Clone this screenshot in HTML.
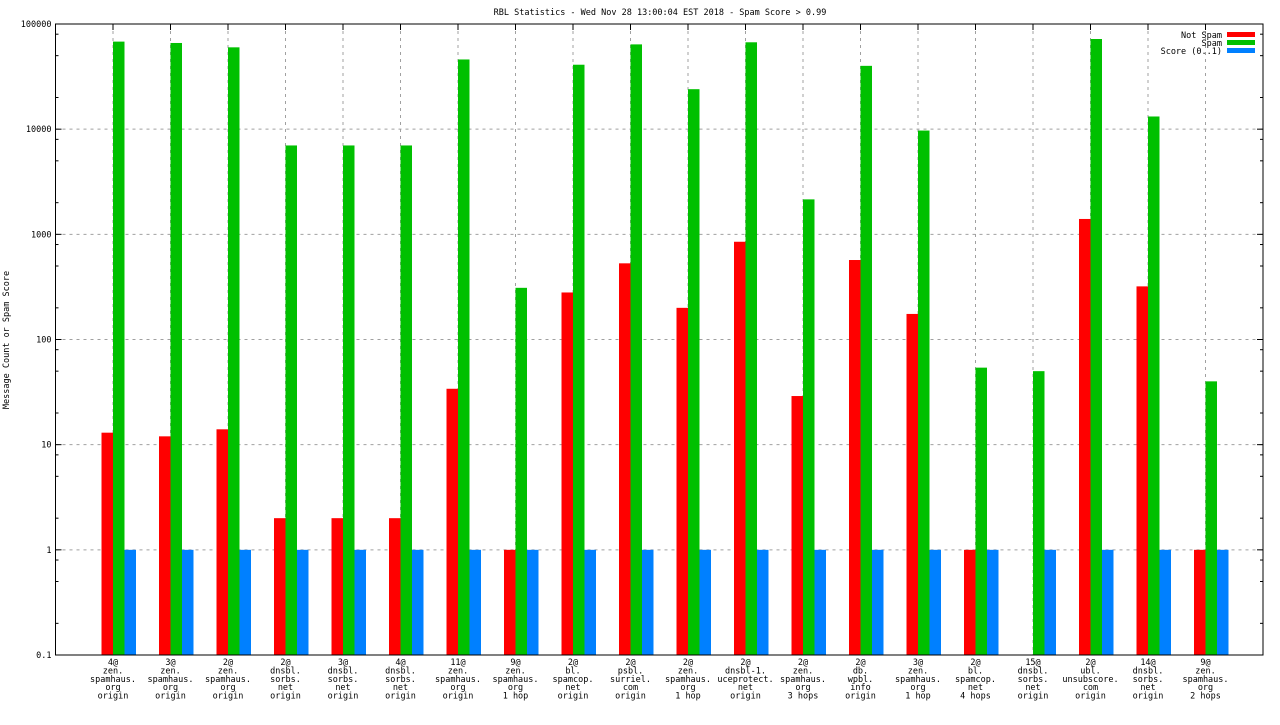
<!DOCTYPE html>
<html><head><meta charset="utf-8"><style>
html,body{margin:0;padding:0;background:#fff;}
svg text{font-family:"DejaVu Sans Mono","Liberation Mono",monospace;font-size:8.5px;fill:#000;}
</style></head><body>
<svg id="chart" width="1280" height="720" xmlns="http://www.w3.org/2000/svg">
<text x="660" y="15" text-anchor="middle">RBL Statistics - Wed Nov 28 13:00:04 EST 2018 - Spam Score &gt; 0.99</text>
<text transform="translate(9,340) rotate(-90)" text-anchor="middle">Message Count or Spam Score</text>
<g id="grid"></g><g id="bars"></g><g id="axes"></g><g id="labels"></g>
<g>
<text x="1222" y="38" text-anchor="end">Not Spam</text><rect x="1227" y="32" width="28" height="5" fill="#ff0000"/>
<text x="1222" y="46" text-anchor="end">Spam</text><rect x="1227" y="40" width="28" height="5" fill="#00c000"/>
<text x="1222" y="54" text-anchor="end">Score (0..1)</text><rect x="1227" y="48" width="28" height="5" fill="#0080ff"/>
</g>
</svg>
<script>
const categories=[
["4@","zen.","spamhaus.","org","origin"],["3@","zen.","spamhaus.","org","origin"],["2@","zen.","spamhaus.","org","origin"],
["2@","dnsbl.","sorbs.","net","origin"],["3@","dnsbl.","sorbs.","net","origin"],["4@","dnsbl.","sorbs.","net","origin"],
["11@","zen.","spamhaus.","org","origin"],["9@","zen.","spamhaus.","org","1 hop"],["2@","bl.","spamcop.","net","origin"],
["2@","psbl.","surriel.","com","origin"],["2@","zen.","spamhaus.","org","1 hop"],["2@","dnsbl-1.","uceprotect.","net","origin"],
["2@","zen.","spamhaus.","org","3 hops"],["2@","db.","wpbl.","info","origin"],["3@","zen.","spamhaus.","org","1 hop"],
["2@","bl.","spamcop.","net","4 hops"],["15@","dnsbl.","sorbs.","net","origin"],["2@","ubl.","unsubscore.","com","origin"],
["14@","dnsbl.","sorbs.","net","origin"],["9@","zen.","spamhaus.","org","2 hops"]];
const notSpam=[13,12,14,2,2,2,34,1,280,530,200,850,29,570,175,1,0,1400,320,1];
const spam=[68000,66000,60000,7000,7000,7000,46000,310,41000,64000,24000,67000,2150,40000,9700,54,50,72000,13200,40];
const score=[1,1,1,1,1,1,1,1,1,1,1,1,1,1,1,1,1,1,1,1];
const yTicks=["0.1","1","10","100","1000","10000","100000"];
const NS="http://www.w3.org/2000/svg";
const L=55.5,R=1263,T=24,B=655;
const x=i=>L+(i+1)*(R-L)/21;
const y=v=>B-(Math.log10(v)+1)*(B-T)/6;
const bw=(R-L)/21*0.2;
function mk(g,tag,a){const e=document.createElementNS(NS,tag);for(const k in a)e.setAttribute(k,a[k]);document.getElementById(g).appendChild(e);return e;}
yTicks.forEach((t,k)=>{const v=parseFloat(t),yy=y(v);
 if(k>0&&k<yTicks.length-1){const gl=mk('grid','line',{x1:L,x2:R,y1:yy,y2:yy,stroke:'#a0a0a0','stroke-dasharray':'3,4'});}
 const tx=mk('labels','text',{x:L-4,y:yy+3,'text-anchor':'end'});tx.textContent=t;
 
 mk('axes','line',{x1:L,x2:L+6,y1:yy,y2:yy,stroke:'#000'});mk('axes','line',{x1:R-6,x2:R,y1:yy,y2:yy,stroke:'#000'});
 if(k<yTicks.length-1)[2,5,8].forEach(m=>{const my=y(v*m);mk('axes','line',{x1:L,x2:L+3,y1:my,y2:my,stroke:'#000'});mk('axes','line',{x1:R-3,x2:R,y1:my,y2:my,stroke:'#000'});});
});
categories.forEach((c,i)=>{const xc=x(i);
 const gl=mk('grid','line',{x1:xc,x2:xc,y1:T,y2:B,stroke:'#a0a0a0','stroke-dasharray':'3,4'});
 
 mk('axes','line',{x1:xc,x2:xc,y1:T,y2:T+6,stroke:'#000'});
 [[notSpam,'#ff0000',-bw,'bar-not-spam'],[spam,'#00c000',0,'bar-spam'],[score,'#0080ff',bw,'bar-score']].forEach(([arr,col,off,nm])=>{
  const v=arr[i];if(!(v>0))return;const top=y(v);
  const r=mk('bars','rect',{x:xc+off,y:top,width:bw,height:B-top,fill:col});
  
 });
 c.forEach((ln,j)=>{const t=mk('labels','text',{x:xc,y:665+j*8.4,'text-anchor':'middle'});t.textContent=ln;
  });
});
const fr=mk('axes','rect',{x:L,y:T,width:R-L,height:B-T,fill:'none',stroke:'#000'});

</script>
</body></html>
